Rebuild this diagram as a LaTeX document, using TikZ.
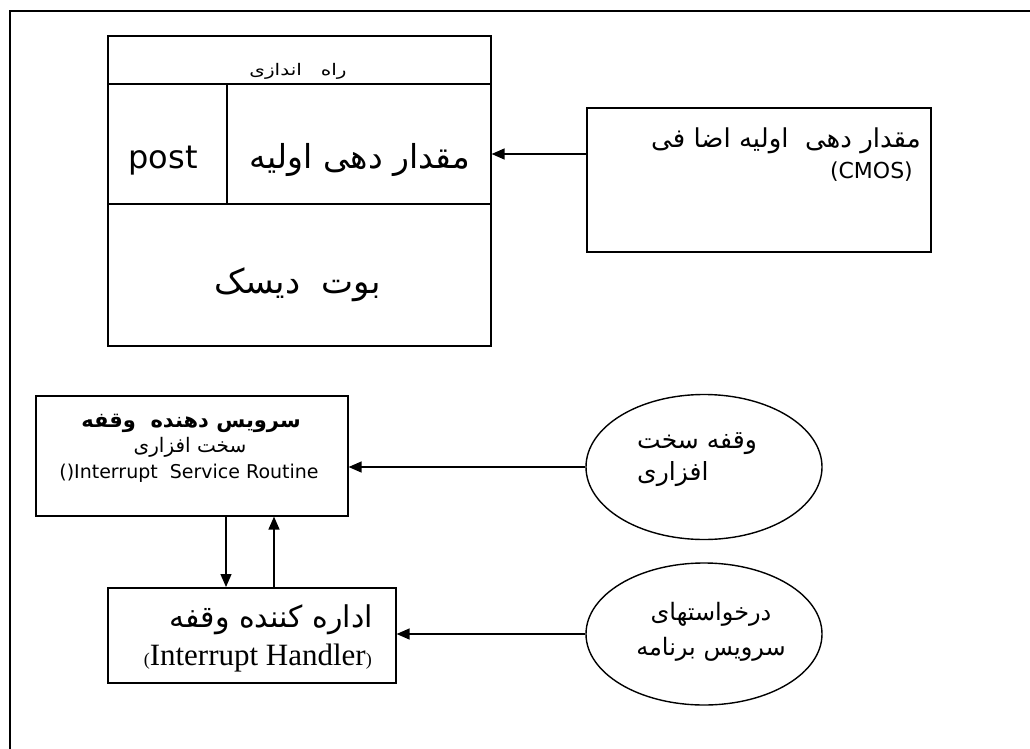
\documentclass[tikz,border=0pt]{standalone}
\usepackage{fontspec}
\setmainfont{DejaVu Sans}
\newfontfamily\fa[Script=Arabic]{DejaVu Sans}
\newfontfamily\fawide[Script=Arabic,FakeStretch=1.25]{DejaVu Sans}
\newfontfamily\tnr{Liberation Serif}
\TeXXeTstate=1
\usetikzlibrary{arrows.meta,shapes.geometric}
\newcommand{\fs}[1]{\fontsize{#1}{#1}\selectfont}
\begin{document}
\begin{tikzpicture}[x=1pt,y=-1pt,
 box/.style={draw,line width=1.6pt,inner sep=0pt,anchor=north west},
 oval/.style={draw,ellipse,line width=1.4pt,inner sep=0pt},
 arr/.style={line width=1.3pt,-{Triangle[length=13pt,width=11pt]}},
 lbl/.style={inner sep=0pt,anchor=base}]
\useasboundingbox (0,0) rectangle (1030,749);
\draw[line width=1.6pt] (10,749) -- (10,11) -- (1031,11);
% boot block
\node[box,minimum width=383pt,minimum height=48pt] (title) at (107,35) {};
\node[box,minimum width=119pt,minimum height=120pt] (post) at (107,83) {};
\node[box,minimum width=264pt,minimum height=120pt] (init) at (226,83) {};
\node[box,minimum width=383pt,minimum height=142pt] (boot) at (107,203) {};
\node[lbl,font=\fawide\fs{16}] (t1) at (298,76) {\beginR راه\ \ \ اندازی\endR};
\node[lbl,font=\fs{32}] (t2) at (163,168) {post};
\node[lbl,font=\fa\fs{33}] (t3) at (360,168) {\beginR مقدار دهی اولیه\endR};
\node[lbl,font=\fa\fs{34}] (t4) at (298,293) {\beginR بوت\ \ دیسک\endR};
% CMOS
\node[box,minimum width=344pt,minimum height=144pt] (cmos) at (586,107) {};
\node[lbl,font=\fa\fs{26},anchor=base east] (t5) at (921,147) {\beginR مقدار دهی\ \ اولیه اضا فی\endR};
\node[lbl,font=\fs{22},anchor=base east] (t6) at (913,178) {(CMOS)};
% ISR
\node[box,minimum width=312pt,minimum height=120pt] (isr) at (35,395) {};
\node[lbl,font=\fa\bfseries\fs{21}] (t7) at (191,427) {\beginR سرویس دهنده\ \ وقفه\endR};
\node[lbl,font=\fa\fs{20}] (t8) at (190,452) {\beginR سخت افزاری\endR};
\node[lbl,font=\fs{19}] (t9) at (189,478) {()Interrupt\ \ Service Routine};
% handler
\node[box,minimum width=288pt,minimum height=95pt] (hb) at (107,587) {};
\node[lbl,font=\fa\fs{30},anchor=base east] (t10) at (373,627) {\beginR اداره کننده وقفه\endR};
\node[lbl,font=\tnr\fs{31},anchor=base east] (t11) at (372,665) {{\fs{18}(}Interrupt Handler{\fs{18})}};
% ellipses
\node[oval,minimum width=236pt,minimum height=145pt] (e1) at (704,467) {};
\node[lbl,font=\fa\fs{25},anchor=base west] (t12) at (637,448) {\beginR وقفه سخت\endR};
\node[lbl,font=\fa\fs{25},anchor=base west] (t13) at (637,480) {\beginR افزاری\endR};
\node[oval,minimum width=236pt,minimum height=142pt] (e2) at (704,634) {};
\node[lbl,font=\fa\fs{24}] (t14) at (711,620) {\beginR درخواستهای\endR};
\node[lbl,font=\fa\fs{24}] (t15) at (711,655) {\beginR سرویس برنامه\endR};
% connectors
\draw[arr] (cmos.west |- 0,154) -- (init.east |- 0,154);
\draw[arr] (e1.west) -- (isr.east |- e1.west);
\draw[arr] (e2.west) -- (hb.east |- e2.west);
\draw[arr] (isr.south -| 226,0) -- (hb.north -| 226,0);
\draw[arr] (hb.north -| 274,0) -- (isr.south -| 274,0);
\end{tikzpicture}
\end{document}
